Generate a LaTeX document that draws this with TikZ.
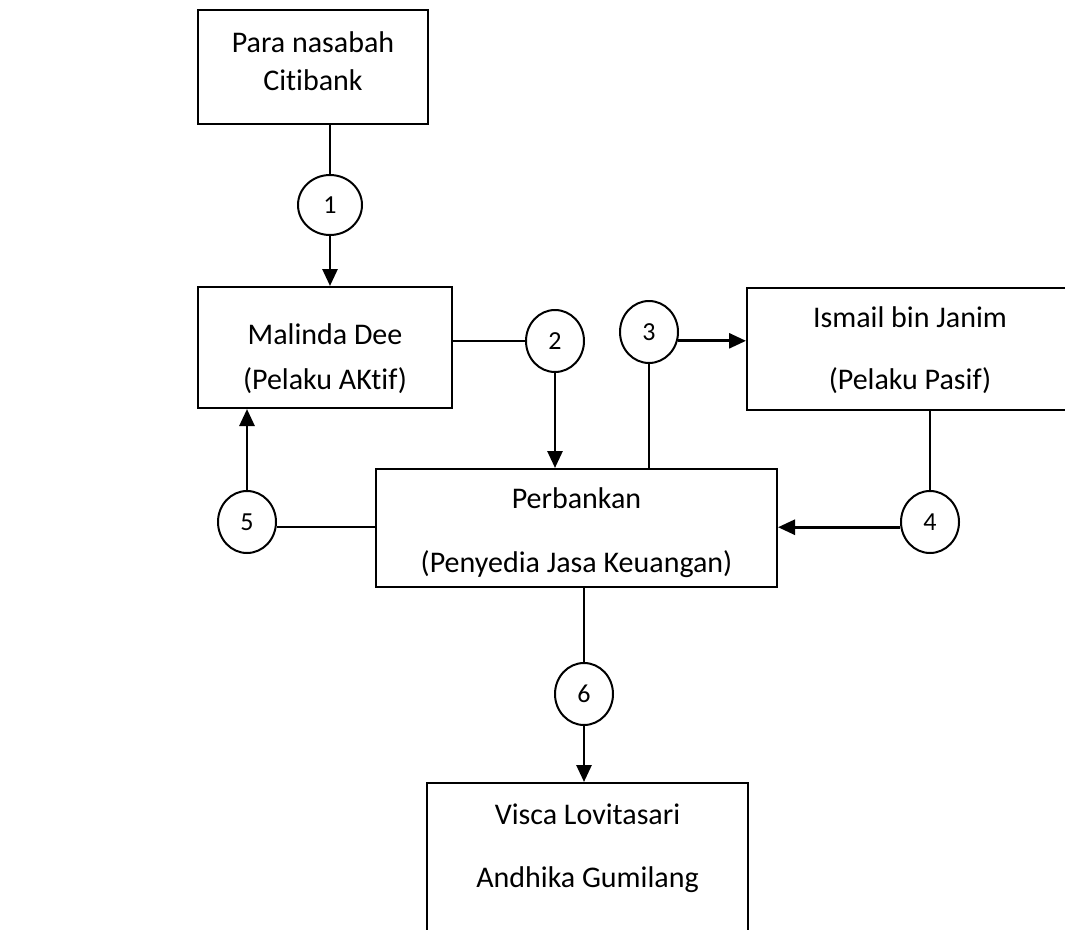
\documentclass[tikz,border=0pt]{standalone}
\usepackage{fontspec}
\setmainfont{Carlito}[Ligatures={TeX,NoCommon}]
\usetikzlibrary{shapes.geometric,arrows.meta}

\tikzset{
  box/.style={draw, line width=2pt, rectangle, inner sep=0pt},
  num/.style={draw, line width=2pt, ellipse, minimum width=58pt, minimum height=62pt,
    inner sep=0pt, font=\fontsize{26}{31}\selectfont},
  lbl/.style={align=center, font=\fontsize{30}{36}\selectfont},
  line/.style={line width=2pt},
  arr/.style={line width=2.8pt, -{Triangle[length=17pt,width=15pt]}}
}

\begin{document}
\begin{tikzpicture}[x=1pt,y=-1pt]
\useasboundingbox (0,0) rectangle (1065,929);

% Boxes
\node[box, minimum width=230pt, minimum height=114pt,
  label={[lbl, yshift=6pt]center:{Para nasabah\\[2pt]Citibank}}] (citi) at (313,67) {};
\node[box, minimum width=254pt, minimum height=121pt,
  label={[lbl, yshift=-11pt]center:{Malinda Dee\\[9pt](Pelaku AKtif)}}] (malinda) at (325,347.5) {};
\node[box, minimum width=326pt, minimum height=122pt,
  label={[lbl, yshift=-1pt]center:{Ismail bin Janim\\[26pt](Pelaku Pasif)}}] (ismail) at (910,349) {};
\node[box, minimum width=401pt, minimum height=118pt,
  label={[lbl, yshift=-5pt]center:{Perbankan\\[28pt](Penyedia Jasa Keuangan)}}] (bank) at (576.5,528) {};
\node[box, minimum width=321pt, minimum height=162pt,
  label={[lbl, yshift=16pt]center:{Visca Lovitasari\\[27pt]Andhika Gumilang}}] (visca) at (587.5,864) {};

% Steps
\node[num, minimum width=64pt, minimum height=60pt] (c1) at (330,205) {1};
\node[num] (c2) at (555,341) {2};
\node[num] (c3) at (649,332) {3};
\node[num] (c4) at (930,522) {4};
\node[num] (c5) at (247,522) {5};
\node[num] (c6) at (584,694) {6};

% 1
\draw[line] (citi.south -| c1.north) -- (c1.north);
\draw[arr] (c1.south) -- (c1.south |- malinda.north);

% 2
\draw[line] (malinda.east |- c2.west) -- (c2.west);
\draw[arr] (c2.south) -- (c2.south |- bank.north);

% 3
\draw[line] (c3.south |- bank.north) -- (c3.south);
\draw[arr] (c3.-17) -- (c3.-17 -| ismail.west);

% 4
\draw[line] (ismail.south -| c4.north) -- (c4.north);
\draw[arr] (c4.190) -- (c4.190 -| bank.east);

% 5
\draw[line] (c5.-10) -- (c5.-10 -| bank.west);
\draw[arr] (c5.north) -- (c5.north |- malinda.south);

% 6
\draw[line] (bank.south -| c6.north) -- (c6.north);
\draw[arr] (c6.south) -- (c6.south |- visca.north);

\end{tikzpicture}
\end{document}
